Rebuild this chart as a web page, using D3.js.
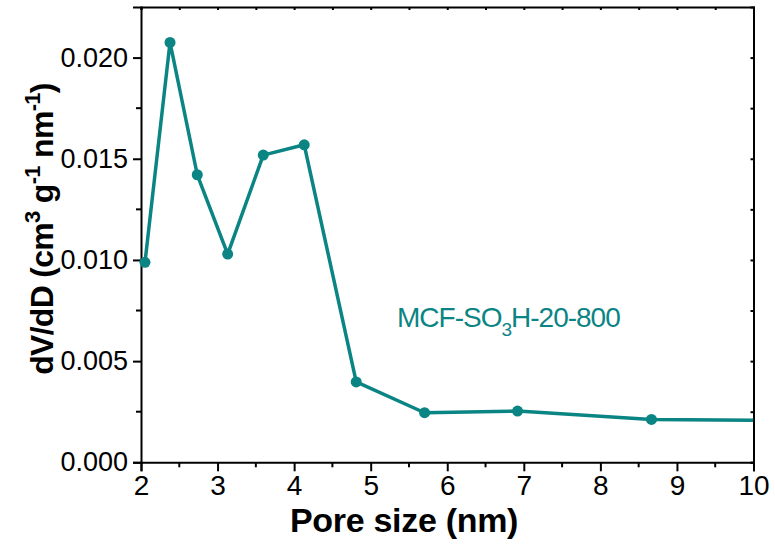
<!DOCTYPE html>
<html>
<head>
<meta charset="utf-8">
<script src="https://cdn.jsdelivr.net/npm/d3@7"></script>
<style>
  html, body { margin: 0; padding: 0; background: #fff; }
  svg { display: block; font-family: Arial, "Liberation Sans", Helvetica, sans-serif; }
</style>
</head>
<body>
<svg id="chart" width="775" height="548"></svg>
<script>
// Data
const poreSize = [2.052, 2.379, 2.735, 3.132, 3.597, 4.132, 4.811, 5.704, 6.918, 8.667];
const dVdD     = [0.00988, 0.02075, 0.01421, 0.01029, 0.01518, 0.01569, 0.00397, 0.00245, 0.00253, 0.00212];
// line continues to the right edge of the axis (value read at x = 10)
const lineEndX = 10;
const lineEndY = 0.00208;

const xTicks = [2, 3, 4, 5, 6, 7, 8, 9, 10];
const xMinorTicks = [2.5, 3.5, 4.5, 5.5, 6.5, 7.5, 8.5, 9.5];
const yTicks = [0.000, 0.005, 0.010, 0.015, 0.020];
const yMinorTicks = [0.0025, 0.0075, 0.0125, 0.0175];
const seriesLabel = "MCF-SO";

const teal = "#0b8484";
const svg = d3.select("#chart");

const L = 141, R = 753.5, T = 7, B = 462.3;
const x = d3.scaleLinear().domain([2, 10]).range([L, R]);
const y = d3.scaleLinear().domain([0, 0.0225]).range([B, T]);

// clip for the data
svg.append("defs").append("clipPath").attr("id", "clip")
  .append("rect").attr("x", L).attr("y", T).attr("width", R - L).attr("height", B - T);

// Bottom axis
const xAxis = svg.append("g").attr("transform", `translate(0,${B})`)
  .call(d3.axisBottom(x).tickValues(xTicks).tickFormat(d3.format("d")).tickSize(9).tickPadding(4));
xAxis.selectAll("text").style("font-size", "28px").attr("fill", "#000");
xAxis.append("g").selectAll("line").data(xMinorTicks).join("line")
  .attr("x1", d => x(d)).attr("x2", d => x(d)).attr("y1", 0).attr("y2", 5)
  .attr("stroke", "#000").attr("stroke-width", 2);

// Left axis
const yAxis = svg.append("g").attr("transform", `translate(${L},0)`)
  .call(d3.axisLeft(y).tickValues(yTicks).tickFormat(d3.format(".3f")).tickSize(8).tickPadding(5));
yAxis.selectAll("text").style("font-size", "27px").attr("fill", "#000");
yAxis.append("g").selectAll("line").data(yMinorTicks).join("line")
  .attr("x1", 0).attr("x2", -5).attr("y1", d => y(d)).attr("y2", d => y(d))
  .attr("stroke", "#000").attr("stroke-width", 2);

// Top axis (inward ticks)
const topAxis = svg.append("g").attr("transform", `translate(0,${T})`)
  .call(d3.axisTop(x).tickValues(xTicks.concat(xMinorTicks)).tickSize(-3).tickFormat(""));
// Right axis (inward ticks)
const rightAxis = svg.append("g").attr("transform", `translate(${R},0)`)
  .call(d3.axisRight(y).tickValues(yTicks.concat(yMinorTicks)).tickSize(-3).tickFormat(""));

[xAxis, yAxis, topAxis, rightAxis].forEach(g => {
  g.select(".domain").attr("stroke", "#000").attr("stroke-width", 2);
  g.selectAll(".tick line").attr("stroke", "#000").attr("stroke-width", 2);
});

// Data line
const pts = poreSize.map((d, i) => [d, dVdD[i]]);
const linePts = pts.concat([[lineEndX, lineEndY]]);
const g = svg.append("g").attr("clip-path", "url(#clip)");
g.append("path").datum(linePts)
  .attr("fill", "none").attr("stroke", teal).attr("stroke-width", 3.5)
  .attr("stroke-linejoin", "round")
  .attr("d", d3.line().x(d => x(d[0])).y(d => y(d[1])));
svg.append("g").selectAll("circle").data(pts).join("circle")
  .attr("cx", d => x(d[0])).attr("cy", d => y(d[1])).attr("r", 5.5).attr("fill", teal);

// Axis titles
svg.append("text")
  .attr("x", 404).attr("y", 532)
  .attr("text-anchor", "middle")
  .style("font-size", "34px").style("font-weight", "bold").style("letter-spacing", "-0.3px")
  .text("Pore size (nm)");

const yt = svg.append("text")
  .attr("transform", "translate(53,229) rotate(-90)")
  .attr("text-anchor", "middle")
  .style("font-size", "32px").style("font-weight", "bold").style("letter-spacing", "-0.7px");
yt.append("tspan").text("dV/dD (cm");
yt.append("tspan").attr("dy", -13).style("font-size", "22px").text("3");
yt.append("tspan").attr("dy", 13).text(" g");
yt.append("tspan").attr("dy", -13).style("font-size", "22px").text("-1");
yt.append("tspan").attr("dy", 13).text(" nm");
yt.append("tspan").attr("dy", -13).style("font-size", "22px").text("-1");
yt.append("tspan").attr("dy", 13).text(")");

// Series annotation
const ann = svg.append("text")
  .attr("x", 397).attr("y", 327)
  .attr("fill", teal)
  .style("font-size", "28px").style("letter-spacing", "-1px");
ann.append("tspan").text(seriesLabel);
ann.append("tspan").attr("dy", 9).style("font-size", "19px").text("3");
ann.append("tspan").attr("dy", -9).text("H-20-800");
</script>
</body>
</html>
